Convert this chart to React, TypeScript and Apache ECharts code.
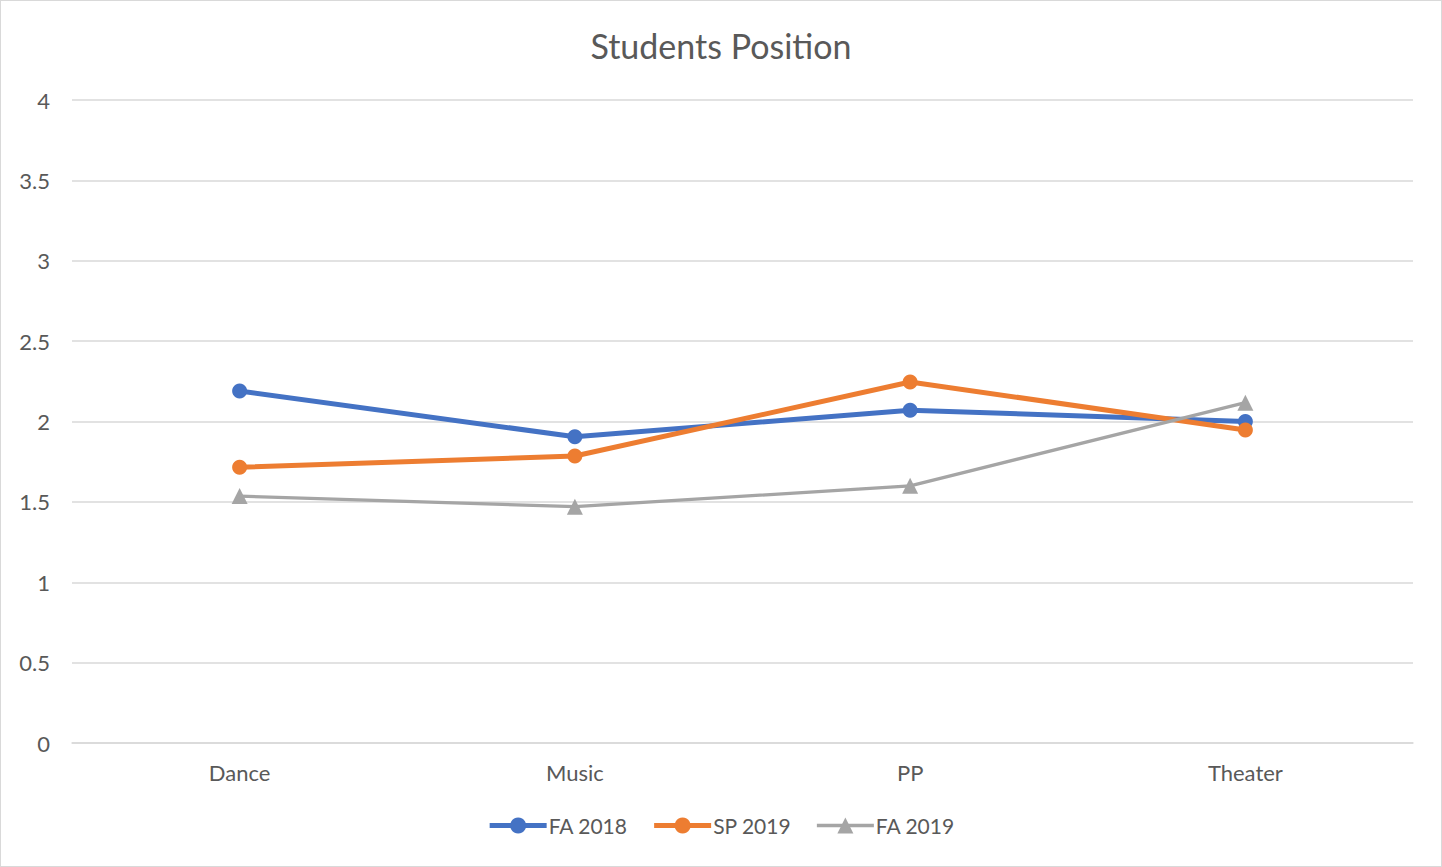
import React, { useEffect, useRef } from "react";
import * as echarts from "echarts";

const categories = ["Dance", "Music", "PP", "Theater"];
const fa2018 = [2.19, 1.905, 2.07, 2.0];
const sp2019 = [1.715, 1.785, 2.246, 1.947];
const fa2019 = [1.536, 1.47, 1.6, 2.117];
const yTicks = [0, 0.5, 1, 1.5, 2, 2.5, 3, 3.5, 4];

const FONT = "Lato, 'Open Sans', sans-serif";
const TXT = "#595959";

export default function App() {
  const ref = useRef<HTMLDivElement>(null);
  useEffect(() => {
    document.body.style.margin = "0";
    const chart = echarts.init(ref.current!, null, { renderer: "svg" });
    chart.setOption({
      animation: false,
      textStyle: { fontFamily: FONT },
      title: {
        text: "Students Position",
        left: "center",
        top: 22,
        textStyle: { fontFamily: FONT, fontSize: 34, fontWeight: "normal", color: TXT },
      },
      legend: {
        top: 809,
        left: "center",
        itemWidth: 57,
        itemHeight: 20,
        itemGap: 24,
        textStyle: { fontFamily: FONT, fontSize: 21, color: TXT, padding: [0, 0, 0, -3] },
        data: [
          { name: "FA 2018", lineStyle: { width: 5 } },
          { name: "SP 2019", lineStyle: { width: 5 } },
          { name: "FA 2019", lineStyle: { width: 3.3 } },
        ],
      },
      grid: { left: 71, right: 28, top: 99, bottom: 123, containLabel: false },
      xAxis: {
        type: "category",
        data: categories,
        boundaryGap: true,
        axisLine: { lineStyle: { color: "#d9d9d9", width: 1.5 } },
        axisTick: { show: false },
        axisLabel: { fontFamily: FONT, fontSize: 22, color: TXT, margin: 18 },
      },
      yAxis: {
        type: "value",
        min: 0,
        max: 4,
        interval: 0.5,
        axisLine: { show: false },
        axisTick: { show: false },
        splitLine: { lineStyle: { color: "#d9d9d9", width: 1.5 } },
        axisLabel: {
          fontFamily: FONT,
          fontSize: 22,
          color: TXT,
          margin: 22,
          formatter: (v: number) => (yTicks.includes(v) ? String(v) : ""),
        },
      },
      series: [
        {
          name: "FA 2018",
          type: "line",
          data: fa2018,
          symbol: "circle",
          symbolSize: 15,
          lineStyle: { color: "#4472c4", width: 5 },
          itemStyle: { color: "#4472c4" },
          z: 3,
        },
        {
          name: "SP 2019",
          type: "line",
          data: sp2019,
          symbol: "circle",
          symbolSize: 15,
          lineStyle: { color: "#ed7d31", width: 5 },
          itemStyle: { color: "#ed7d31" },
          z: 4,
        },
        {
          name: "FA 2019",
          type: "line",
          data: fa2019,
          symbol: "triangle",
          symbolSize: 16,
          lineStyle: { color: "#a5a5a5", width: 3.3 },
          itemStyle: { color: "#a5a5a5" },
          z: 5,
        },
      ],
    });
    return () => chart.dispose();
  }, []);
  return (
    <div
      style={{
        width: 1442,
        height: 867,
        boxSizing: "border-box",
        border: "1px solid #d9d9d9",
        background: "#fff",
      }}
    >
      <div ref={ref} style={{ width: 1440, height: 865 }} />
    </div>
  );
}
